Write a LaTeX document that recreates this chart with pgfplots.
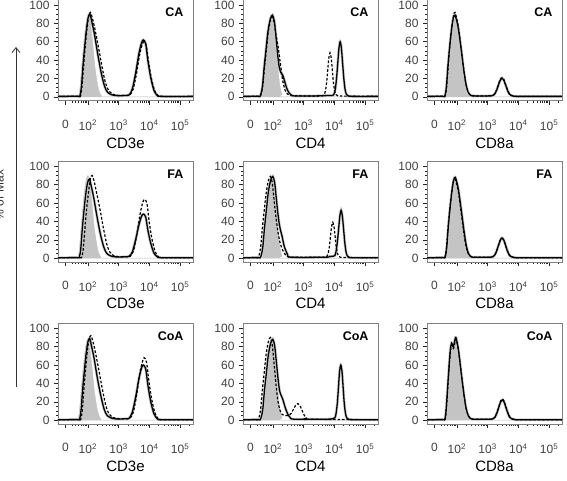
\documentclass[border=0pt]{standalone}
\usepackage{fontspec}
\setmainfont{Liberation Sans}
\usepackage{pgfplots}
\pgfplotsset{compat=1.18}
\usetikzlibrary{arrows.meta}

\tikzset{
  tag/.style={anchor=north east, font=\bfseries\fontsize{12.5}{14}\selectfont, xshift=-6pt, yshift=-5pt},
  marker/.style={anchor=base, font=\fontsize{15}{17}\selectfont},
}
\pgfplotsset{
  flow/.style={
    scale only axis, width=135pt, height=101pt, anchor=south west,
    xmin=1.03, xmax=5.42, ymin=-4.2, ymax=105.8,
    xtick={1.27,2,3,4,5},
    xticklabels={0,10\textsuperscript{2},10\textsuperscript{3},10\textsuperscript{4},10\textsuperscript{5}},
    minor xtick={1.48,1.60,1.70,1.78,1.85,1.90,1.95,2.30,2.48,2.60,2.70,2.78,2.85,2.90,2.95,3.30,3.48,3.60,3.70,3.78,3.85,3.90,3.95,4.30,4.48,4.60,4.70,4.78,4.85,4.90,4.95,5.30},
    ytick={0,20,40,60,80,100},
    minor y tick num=3,
    tick align=outside, xtick pos=bottom, ytick pos=left,
    major tick length=4pt, minor tick length=2pt,
    axis line style={black!50, line width=0.6pt},
    every tick/.style={black!85, line width=0.5pt},
    tick label style={font=\fontsize{12}{13}\selectfont, text=black!75},
    xticklabel style={yshift=-12pt},
    yticklabel style={xshift=-1pt},
    /pgf/number format/assume math mode=true,
  },
  ctrl/.style={fill=black!23, draw=black!23, line width=0.4pt, smooth},
  solidc/.style={black, line width=1.3pt, smooth, preaction={draw=black!20, line width=2.8pt}},
  dashc/.style={black, line width=1.2pt, smooth, dash pattern=on 2.6pt off 1.8pt},
}

\begin{document}
\begin{tikzpicture}

% ---------------- row 1 : CA ----------------
\begin{axis}[flow, at={(58pt,380.3pt)}]
\addplot[ctrl] coordinates {(1.03,0) (1.62,0) (1.70,1) (1.75,11) (1.80,33) (1.85,52) (1.91,72) (1.97,86) (2.03,90) (2.09,79) (2.16,58) (2.23,33) (2.32,13) (2.38,5) (2.45,1) (2.55,0) (5.42,0)} \closedcycle;
\addplot[solidc] coordinates {(1.03,0.5) (1.66,0.6) (1.74,1) (1.79,11) (1.84,33) (1.89,52) (1.95,72) (2.01,86) (2.07,90) (2.14,80) (2.21,69) (2.32,47) (2.43,27) (2.54,12) (2.64,5) (2.80,2) (3.00,1.2) (3.20,1.5) (3.34,2) (3.45,9) (3.56,27) (3.66,47) (3.74,58) (3.80,62) (3.88,58) (3.95,40) (4.04,22) (4.15,7) (4.26,1.5) (4.40,0.5) (5.42,0.5)};
\addplot[dashc] coordinates {(1.03,0.5) (1.68,0.6) (1.76,1) (1.81,11) (1.86,32) (1.91,52) (1.97,73) (2.03,88) (2.09,92) (2.16,84) (2.23,74) (2.34,55) (2.45,35) (2.56,17) (2.66,8) (2.80,3) (3.00,1.5) (3.25,1.5) (3.36,2) (3.47,8) (3.58,25) (3.68,45) (3.76,56) (3.82,60) (3.90,56) (3.97,39) (4.06,21) (4.17,7) (4.28,1.5) (4.40,0.5) (5.42,0.5)};
\node[tag] at (rel axis cs:1,1) {CA};
\end{axis}

\begin{axis}[flow, at={(243pt,380.3pt)}]
\addplot[ctrl] coordinates {(1.03,0) (1.57,0) (1.65,1) (1.70,11) (1.75,33) (1.80,52) (1.86,72) (1.92,86) (1.98,90) (2.04,82) (2.08,66) (2.16,33) (2.23,12) (2.30,2.5) (2.38,0) (5.42,0)} \closedcycle;
\addplot[solidc] coordinates {(1.03,0.5) (1.51,0.6) (1.59,1) (1.66,11) (1.72,33) (1.78,52) (1.84,71) (1.92,85) (1.99,89) (2.05,82) (2.10,66) (2.16,45) (2.21,32) (2.27,26) (2.33,23) (2.40,15) (2.48,7) (2.58,2.5) (2.70,1) (3.40,1) (3.85,1.5) (3.95,1.5) (3.99,3) (4.03,8) (4.07,19.5) (4.11,36) (4.15,53) (4.19,60) (4.23,53) (4.27,36) (4.31,19.5) (4.35,8) (4.39,3) (4.45,1) (4.60,0.5) (5.42,0.5)};
\addplot[dashc] coordinates {(1.03,0.5) (1.52,0.6) (1.60,1) (1.67,11) (1.73,32) (1.79,51) (1.85,70) (1.92,83) (1.98,87) (2.05,80) (2.10,68) (2.17,55) (2.25,35) (2.32,18) (2.40,7) (2.48,3) (2.60,1.5) (3.00,1) (3.55,1) (3.63,1.5) (3.67,2.5) (3.71,6.5) (3.75,15.6) (3.785,29) (3.82,42) (3.86,48) (3.90,42) (3.935,29) (3.97,15.6) (4.01,6.5) (4.05,2.5) (4.12,1) (4.30,0.8) (5.42,0.5)};
\node[tag] at (rel axis cs:1,1) {CA};
\end{axis}

\begin{axis}[flow, at={(427pt,380.3pt)}]
\addplot[ctrl] coordinates {(1.03,0) (1.52,0) (1.60,1) (1.65,11) (1.70,32) (1.75,51) (1.81,70) (1.87,84) (1.93,88) (2.03,75) (2.13,51) (2.20,33) (2.28,15) (2.36,5) (2.45,1) (2.55,0) (5.42,0)} \closedcycle;
\addplot[solidc] coordinates {(1.03,0.5) (1.53,0.6) (1.61,1) (1.66,11) (1.71,33) (1.76,52) (1.82,71) (1.88,85) (1.94,89) (2.04,76) (2.14,52) (2.21,33) (2.29,15) (2.37,5) (2.46,1.5) (2.60,1) (3.00,1) (3.11,1.1) (3.17,1.5) (3.23,3) (3.29,7) (3.35,12.5) (3.41,18) (3.47,20) (3.53,18) (3.59,12.5) (3.65,7) (3.71,3) (3.77,1.5) (3.85,0.8) (4.00,0.5) (5.42,0.5)};
\addplot[dashc] coordinates {(1.03,0.5) (1.54,0.6) (1.62,1) (1.67,11) (1.72,34) (1.77,54) (1.83,74) (1.89,88) (1.94,92) (2.04,78) (2.14,53) (2.21,34) (2.29,15) (2.37,5) (2.46,1.5) (2.60,1) (3.00,1) (3.11,1.1) (3.17,1.5) (3.23,3.2) (3.29,7.3) (3.35,13) (3.41,19) (3.47,21) (3.53,19) (3.59,13) (3.65,7.3) (3.71,3.2) (3.77,1.5) (3.85,0.8) (4.00,0.5) (5.42,0.5)};
\node[tag] at (rel axis cs:1,1) {CA};
\end{axis}

% ---------------- row 2 : FA ----------------
\begin{axis}[flow, at={(58pt,219pt)}]
\addplot[ctrl] coordinates {(1.03,0) (1.60,0) (1.68,1) (1.73,11) (1.78,33) (1.83,52) (1.89,72) (1.95,86) (2.01,90) (2.07,79) (2.14,58) (2.21,33) (2.30,13) (2.36,5) (2.43,1) (2.53,0) (5.42,0)} \closedcycle;
\addplot[solidc] coordinates {(1.03,0.5) (1.64,0.6) (1.72,1) (1.77,10) (1.82,32) (1.87,50) (1.93,69) (1.99,82) (2.05,86) (2.12,77) (2.19,66) (2.30,45) (2.41,26) (2.52,12) (2.62,5) (2.78,2) (3.00,1.2) (3.20,1.5) (3.34,2) (3.45,7) (3.56,21) (3.66,36) (3.74,45) (3.80,48) (3.88,45) (3.95,31) (4.04,17) (4.15,5.5) (4.26,1.5) (4.40,0.5) (5.42,0.5)};
\addplot[dashc] coordinates {(1.03,0.5) (1.72,0.6) (1.80,1) (1.85,10) (1.90,30) (1.95,50) (2.02,71) (2.08,86) (2.14,90) (2.21,83) (2.28,72) (2.39,54) (2.50,34) (2.61,16) (2.71,7) (2.85,2.5) (3.05,1.5) (3.25,1.5) (3.38,2) (3.49,8.5) (3.60,27) (3.70,48) (3.78,60) (3.84,64) (3.92,60) (3.99,41) (4.08,22) (4.19,7) (4.30,1.5) (4.42,0.5) (5.42,0.5)};
\node[tag] at (rel axis cs:1,1) {FA};
\end{axis}

\begin{axis}[flow, at={(243pt,219pt)}]
\addplot[ctrl] coordinates {(1.03,0) (1.57,0) (1.65,1) (1.70,11) (1.75,33) (1.80,52) (1.86,72) (1.92,86) (1.98,90) (2.04,82) (2.08,66) (2.16,33) (2.23,12) (2.30,2.5) (2.38,0) (5.42,0)} \closedcycle;
\addplot[solidc] coordinates {(1.03,0.5) (1.52,0.6) (1.60,1) (1.67,11) (1.73,33) (1.79,52) (1.85,71) (1.93,85) (2.00,89) (2.06,82) (2.11,66) (2.16,50) (2.21,37) (2.26,29) (2.30,24) (2.37,13) (2.48,4) (2.59,1) (3.70,1) (3.85,1.8) (3.98,2.2) (4.02,3) (4.06,8) (4.10,18) (4.14,32) (4.18,46) (4.22,52) (4.26,46) (4.30,32) (4.34,17) (4.38,7) (4.42,2.5) (4.48,1) (4.60,0.5) (5.42,0.5)};
\addplot[dashc] coordinates {(1.03,0.5) (1.45,0.6) (1.53,1) (1.60,11) (1.66,33) (1.72,52) (1.78,70) (1.85,84) (1.92,89) (1.98,82) (2.05,60) (2.10,45) (2.16,30) (2.22,19) (2.27,13) (2.33,8) (2.40,4) (2.50,1.5) (2.65,1) (3.60,1) (3.70,1.2) (3.76,2) (3.80,5.3) (3.84,12.7) (3.875,24) (3.91,34) (3.95,39) (3.99,34) (4.025,24) (4.06,12.7) (4.10,5.3) (4.14,2) (4.20,1) (4.40,0.6) (5.42,0.5)};
\node[tag] at (rel axis cs:1,1) {FA};
\end{axis}

\begin{axis}[flow, at={(427pt,219pt)}]
\addplot[ctrl] coordinates {(1.03,0) (1.52,0) (1.60,1) (1.65,11) (1.70,32) (1.75,51) (1.81,70) (1.87,84) (1.93,88) (2.03,75) (2.13,51) (2.20,33) (2.28,15) (2.36,5) (2.45,1) (2.55,0) (5.42,0)} \closedcycle;
\addplot[solidc] coordinates {(1.03,0.5) (1.54,0.6) (1.62,1) (1.67,11) (1.72,33) (1.77,51) (1.83,70) (1.89,84) (1.95,88) (2.05,75) (2.15,51) (2.22,33) (2.30,15) (2.38,5) (2.47,1.5) (2.60,1) (3.00,1) (3.11,1.1) (3.17,1.5) (3.23,3.2) (3.29,7.5) (3.35,13.5) (3.41,19.5) (3.47,22) (3.53,19.5) (3.59,13.5) (3.65,7.5) (3.71,3.2) (3.77,1.5) (3.85,0.8) (4.00,0.5) (5.42,0.5)};
\addplot[dashc] coordinates {(1.03,0.5) (1.53,0.6) (1.61,1) (1.66,11) (1.71,32) (1.76,50) (1.82,68) (1.88,82) (1.94,86) (2.04,74) (2.14,50) (2.21,32) (2.29,14) (2.37,5) (2.46,1.5) (2.60,1) (3.00,1) (3.11,1.1) (3.17,1.5) (3.23,3.1) (3.29,7.3) (3.35,13.2) (3.41,19) (3.47,21.5) (3.53,19) (3.59,13.2) (3.65,7.3) (3.71,3.1) (3.77,1.5) (3.85,0.8) (4.00,0.5) (5.42,0.5)};
\node[tag] at (rel axis cs:1,1) {FA};
\end{axis}

% ---------------- row 3 : CoA ----------------
\begin{axis}[flow, at={(58pt,57pt)}]
\addplot[ctrl] coordinates {(1.03,0) (1.60,0) (1.68,1) (1.73,11) (1.78,32) (1.83,51) (1.89,70) (1.95,84) (2.01,88) (2.07,77) (2.14,57) (2.21,32) (2.30,13) (2.36,5) (2.43,1) (2.53,0) (5.42,0)} \closedcycle;
\addplot[solidc] coordinates {(1.03,0.5) (1.65,0.6) (1.73,1) (1.78,11) (1.83,33) (1.88,51) (1.94,71) (2.00,85) (2.06,89) (2.13,79) (2.20,68) (2.31,46) (2.42,27) (2.53,12) (2.63,5) (2.79,2) (3.00,1.2) (3.20,1.5) (3.34,2) (3.45,9) (3.56,26) (3.66,45) (3.74,56) (3.80,60) (3.88,56) (3.95,39) (4.04,21) (4.15,7) (4.26,1.5) (4.40,0.5) (5.42,0.5)};
\addplot[dashc] coordinates {(1.03,0.5) (1.69,0.6) (1.77,1) (1.82,11) (1.87,33) (1.92,53) (1.98,74) (2.04,88) (2.10,92) (2.17,85) (2.24,75) (2.35,56) (2.46,36) (2.57,18) (2.67,8) (2.81,3) (3.00,1.5) (3.25,1.5) (3.37,2) (3.48,9) (3.59,28) (3.69,51) (3.77,63) (3.83,68) (3.91,63) (3.98,44) (4.07,24) (4.18,8) (4.29,1.5) (4.42,0.5) (5.42,0.5)};
\node[tag] at (rel axis cs:1,1) {CoA};
\end{axis}

\begin{axis}[flow, at={(243pt,57pt)}]
\addplot[ctrl] coordinates {(1.03,0) (1.57,0) (1.65,1) (1.70,11) (1.75,33) (1.80,52) (1.86,72) (1.92,86) (1.98,90) (2.04,82) (2.08,66) (2.16,33) (2.23,12) (2.30,2.5) (2.38,0) (5.42,0)} \closedcycle;
\addplot[solidc] coordinates {(1.03,0.5) (1.52,0.6) (1.60,1) (1.67,11) (1.73,33) (1.79,51) (1.85,70) (1.93,84) (2.00,88) (2.06,81) (2.11,65) (2.17,45) (2.22,32) (2.27,27) (2.33,22) (2.40,14) (2.48,7) (2.56,3) (2.70,1) (3.70,1) (3.95,1.5) (4.02,2.6) (4.06,8) (4.10,19.5) (4.135,36) (4.17,53) (4.21,60) (4.25,53) (4.285,36) (4.32,19.5) (4.36,8) (4.40,2.6) (4.46,1) (4.60,0.5) (5.42,0.5)};
\addplot[dashc] coordinates {(1.03,0.5) (1.45,0.6) (1.53,1) (1.60,11) (1.66,33) (1.72,52) (1.78,71) (1.85,85) (1.92,90) (1.98,82) (2.04,62) (2.10,40) (2.16,22) (2.23,11) (2.31,6) (2.41,5) (2.51,5) (2.60,7.5) (2.68,12.5) (2.75,16.5) (2.81,18) (2.87,16.5) (2.94,11.5) (3.01,6) (3.09,2.5) (3.20,1) (5.42,0.5)};
\node[tag] at (rel axis cs:1,1) {CoA};
\end{axis}

\begin{axis}[flow, at={(427pt,57pt)}]
\addplot[ctrl] coordinates {(1.03,0) (1.52,0) (1.60,1) (1.65,12) (1.70,34) (1.75,55) (1.81,74) (1.87,84) (1.93,86) (2.03,74) (2.13,50) (2.20,32) (2.28,15) (2.36,5) (2.45,1) (2.55,0) (5.42,0)} \closedcycle;
\addplot[solidc] coordinates {(1.03,0.5) (1.53,0.6) (1.61,1) (1.65,11) (1.70,35) (1.75,60) (1.79,77) (1.83,84) (1.88,80) (1.93,86) (1.97,90) (2.05,77) (2.14,52) (2.21,33) (2.29,15) (2.37,5) (2.46,1.5) (2.60,1) (3.00,1) (3.12,1.1) (3.18,1.5) (3.24,3.2) (3.30,7.5) (3.36,13.5) (3.42,19.5) (3.48,22) (3.54,19.5) (3.60,13.5) (3.66,7.5) (3.72,3.2) (3.78,1.5) (3.86,0.8) (4.00,0.5) (5.42,0.5)};
\addplot[dashc] coordinates {(1.03,0.5) (1.54,0.6) (1.62,1) (1.66,12) (1.71,37) (1.76,62) (1.80,77) (1.84,82) (1.89,78) (1.94,85) (1.98,88) (2.06,74) (2.15,50) (2.22,31) (2.30,13) (2.38,4.5) (2.47,1.5) (2.60,1) (3.00,1) (3.12,1.1) (3.18,1.6) (3.24,3.4) (3.30,8) (3.36,14) (3.42,20.5) (3.48,23) (3.54,20.5) (3.60,14) (3.66,8) (3.72,3.4) (3.78,1.6) (3.86,0.8) (4.00,0.5) (5.42,0.5)};
\node[tag] at (rel axis cs:1,1) {CoA};
\end{axis}

% marker names under each column of panels
\foreach \yb in {332.5pt,172.5pt,9.5pt} {
  \node[marker] at (125.5pt,\yb) {CD3e};
  \node[marker] at (310.5pt,\yb) {CD4};
  \node[marker] at (494.5pt,\yb) {CD8a};
}

% shared y-axis caption and arrow
\draw[-{Straight Barb[length=5pt,width=8pt]}, line width=0.8pt, black!80] (16pt,94pt) -- (16pt,434pt);
\node[rotate=90, anchor=base, font=\fontsize{12}{14}\selectfont, text=black!80] at (3.5pt,286pt) {\% of Max};

\pgfresetboundingbox
\useasboundingbox (0pt,0pt) rectangle (567pt,481pt);
\end{tikzpicture}
\end{document}
